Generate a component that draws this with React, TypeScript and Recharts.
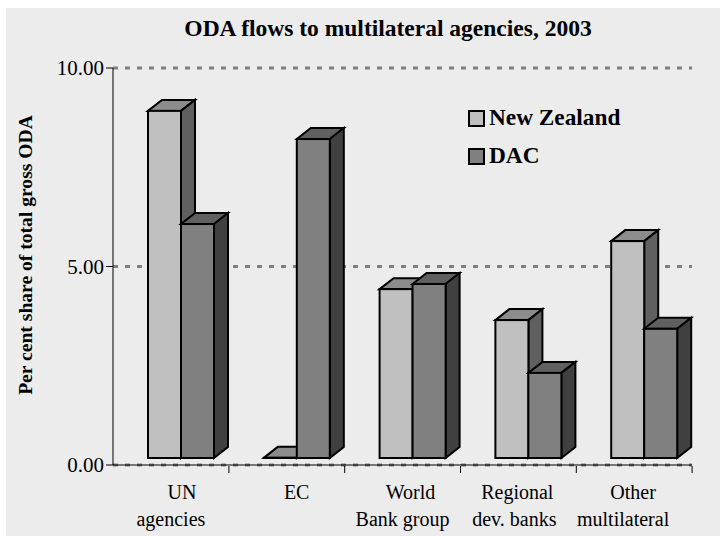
import { BarChart, Bar, XAxis, YAxis, CartesianGrid } from 'recharts'

const categories = ['UN agencies', 'EC', 'World Bank group', 'Regional dev. banks', 'Other multilateral']
const newZealand = [8.92, 0.18, 4.43, 3.65, 5.64]
const dac = [6.07, 8.21, 4.56, 2.32, 3.43]
const yTicks = [0, 5, 10]
const labelLines = [
  ['UN', 'agencies'],
  ['EC', ''],
  ['World', 'Bank group'],
  ['Regional', 'dev. banks'],
  ['Other', 'multilateral'],
]
// offsets of each label line from the band centre, the source text is not centred
const labelOffsets = [
  [11, 0],
  [10, 0],
  [8, 0],
  [-1, -4],
  [-1, -11],
]

const data = categories.map((name, i) => ({ name, newZealand: newZealand[i], dac: dac[i] }))

const FONT = '"Liberation Serif", "Times New Roman", serif'
const DEPTH_X = 14
const DEPTH_Y = 11
const SHIFT_X = 10
const BASE_LIFT = 7

function Bar3D({ x, y, width, height, front, top, side }: any) {
  const left = x + SHIFT_X
  const right = left + width
  const bottom = y + height - BASE_LIFT
  const common = { stroke: '#000', strokeWidth: 2, strokeLinejoin: 'miter' as const }
  return (
    <g>
      <path d={`M${left},${y}L${left + DEPTH_X},${y - DEPTH_Y}H${right + DEPTH_X}L${right},${y}Z`} fill={top} {...common} />
      <path d={`M${right},${y}L${right + DEPTH_X},${y - DEPTH_Y}V${bottom - DEPTH_Y}L${right},${bottom}Z`} fill={side} {...common} />
      <rect x={left} y={y} width={width} height={bottom - y} fill={front} {...common} />
    </g>
  )
}

function CategoryTick({ x, y, index }: any) {
  return (
    <g>
      {labelLines[index].map((line, i) => (
        <text
          key={i}
          x={x + labelOffsets[index][i]}
          y={y + 26 + i * 27}
          textAnchor="middle"
          fontFamily={FONT}
          fontSize={20}
          fill="#000"
        >
          {line}
        </text>
      ))}
      <line x1={x + 58} x2={x + 58} y1={y} y2={y - 7} stroke="#000" strokeWidth={1} />
    </g>
  )
}

function ChartLegend() {
  const items = [
    { label: 'New Zealand', fill: '#c0c0c0', top: 110 },
    { label: 'DAC', fill: '#808080', top: 148 },
  ]
  return (
    <g>
      {items.map((item) => (
        <g key={item.label}>
          <rect x={469} y={item.top + 1} width={15} height={15} fill={item.fill} stroke="#000" strokeWidth={2} />
          <text x={489} y={item.top + 15} fontFamily={FONT} fontSize={23.3} fontWeight="bold" fill="#000">
            {item.label}
          </text>
        </g>
      ))}
    </g>
  )
}

export default function App() {
  return (
    <div style={{ position: 'absolute', left: 0, top: 0, width: 720, height: 536, background: '#fff', overflow: 'hidden' }}>
      <div style={{ position: 'absolute', left: 6, top: 8, width: 714, height: 528, background: '#ececec' }} />
      <div style={{ position: 'absolute', left: 0, top: 0 }}>
        <BarChart
          width={720}
          height={536}
          data={data}
          margin={{ top: 68, right: 28, bottom: 0, left: 0 }}
          barSize={33}
          barGap={0}
        >
          <text x={388} y={36} textAnchor="middle" fontFamily={FONT} fontSize={23.5} fontWeight="bold" fill="#000">
            ODA flows to multilateral agencies, 2003
          </text>
          <text
            transform="translate(32,255) rotate(-90)"
            textAnchor="middle"
            fontFamily={FONT}
            fontSize={19.6}
            fontWeight="bold"
            fill="#000"
          >
            Per cent share of total gross ODA
          </text>
          <CartesianGrid vertical={false} stroke="#808080" strokeWidth={3} strokeDasharray="5 7" />
          <XAxis
            dataKey="name"
            interval={0}
            height={71}
            axisLine={{ stroke: '#000', strokeWidth: 1 }}
            tickLine={false}
            tick={<CategoryTick />}
          />
          <YAxis
            domain={[0, 10]}
            ticks={yTicks}
            width={113}
            tickFormatter={(v: number) => v.toFixed(2)}
            axisLine={{ stroke: '#000', strokeWidth: 1 }}
            tickLine={{ stroke: '#000', strokeWidth: 1 }}
            tickSize={7}
            tickMargin={2}
            tick={{ fontFamily: FONT, fontSize: 21, fill: '#000' }}
          />
          <Bar dataKey="newZealand" name="New Zealand" isAnimationActive={false} shape={<Bar3D front="#c0c0c0" top="#8c8c8c" side="#606060" />} />
          <Bar dataKey="dac" name="DAC" isAnimationActive={false} shape={<Bar3D front="#808080" top="#606060" side="#404040" />} />
          <ChartLegend />
        </BarChart>
      </div>
    </div>
  )
}
